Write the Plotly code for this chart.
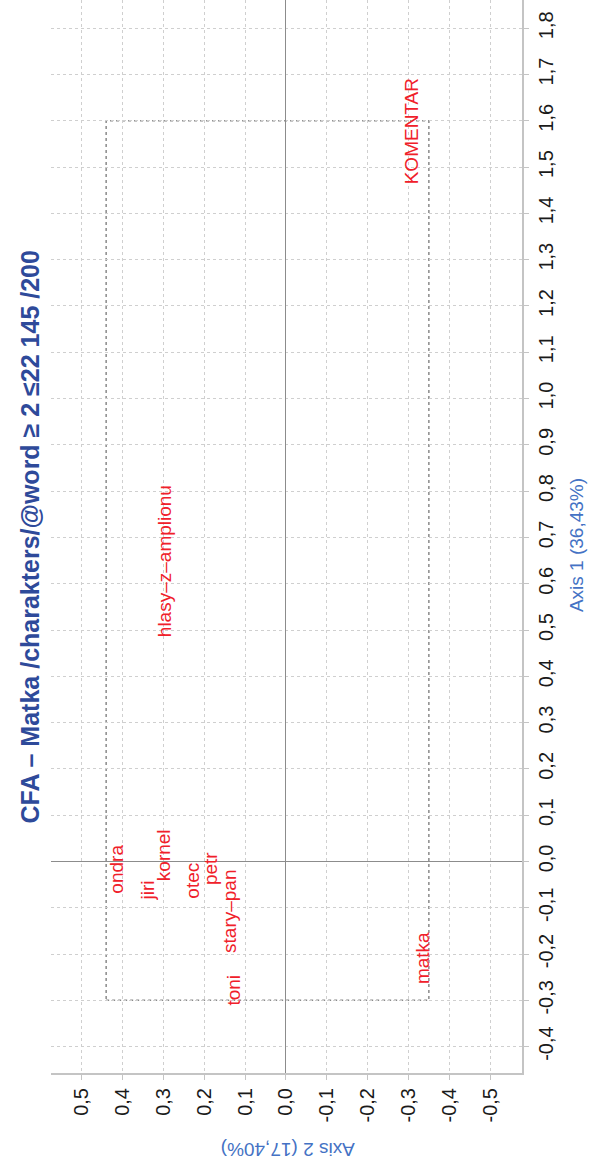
import plotly.graph_objects as go

# Data (CFA coordinates)
labels = ["ondra", "jiri", "kornel", "otec", "petr", "stary–pan", "toni",
          "hlasy–z–amplionu", "KOMENTAR", "matka"]
axis1 = [-0.016, -0.063, 0.013, -0.042, -0.015, -0.108, -0.279, 0.649, 1.578, -0.209]
axis2 = [0.414, 0.338, 0.299, 0.228, 0.184, 0.138, 0.127, 0.298, -0.307, -0.333]

ax1_ticks = [round(-0.4 + 0.1 * i, 1) for i in range(23)]
ax2_ticks = [round(-0.5 + 0.1 * i, 1) for i in range(11)]
box_ax1 = [-0.3, 1.6]
box_ax2 = [-0.35, 0.44]

title = "CFA – Matka /charakters/@word ≥ 2 ≤22 145 /200"
ax1_title = "Axis 1 (36,43%)"
ax2_title = "Axis 2 (17,40%)"

FONT = "Liberation Sans Narrow, Liberation Sans, Arial, sans-serif"

def fmt(v):
    return f"{v:.1f}".replace(".", ",")

fig = go.Figure()
fig.add_trace(go.Scatter(x=axis2, y=axis1, mode="markers",
                         marker=dict(size=1, color="rgba(0,0,0,0)"),
                         hoverinfo="skip", showlegend=False))

for t, a1, a2 in zip(labels, axis1, axis2):
    fig.add_annotation(x=a2, y=a1, xref="x", yref="y", text=t, textangle=-90,
                       showarrow=False, xanchor="center", yanchor="middle",
                       font=dict(family=FONT, size=19, color="#F0202A"))

fig.add_shape(type="rect", xref="x", yref="y",
              x0=box_ax2[1], x1=box_ax2[0], y0=box_ax1[0], y1=box_ax1[1],
              line=dict(color="#8a8a8a", width=1.5, dash="dot"), layer="below")

common = dict(showgrid=True, gridcolor="#cfcfcf", griddash="dot", gridwidth=1,
              zeroline=True, zerolinecolor="#8c8c8c", zerolinewidth=1.2,
              showline=True, linecolor="#c4c4c4", linewidth=2,
              ticks="outside", ticklen=5, tickcolor="#c4c4c4", tickangle=-90,
              tickfont=dict(family=FONT, size=20, color="#1a1a1a"))

fig.update_xaxes(range=[0.575, -0.578], tickvals=ax2_ticks,
                 ticktext=[fmt(v) for v in ax2_ticks], **common)
fig.update_yaxes(range=[-0.457, 1.861], side="right", tickvals=ax1_ticks,
                 ticktext=[fmt(v) for v in ax1_ticks], **common)

fig.add_annotation(xref="paper", yref="paper", x=-0.0446, y=0.5, text="<b>" + title + "</b>",
                   textangle=-90, showarrow=False, xanchor="center", yanchor="middle",
                   font=dict(family=FONT, size=25, color="#2E4A9A"))
fig.add_annotation(xref="paper", yref="paper", x=1.1146, y=0.492, text=ax1_title,
                   textangle=-90, showarrow=False, xanchor="center", yanchor="middle",
                   font=dict(family=FONT, size=19, color="#4472C4"))
fig.add_annotation(xref="paper", yref="paper", x=0.503, y=-0.0718, text=ax2_title,
                   textangle=180, showarrow=False, xanchor="center", yanchor="middle",
                   font=dict(family=FONT, size=19, color="#4472C4"))

fig.update_layout(width=591, height=1175, margin=dict(l=51, r=69, t=0, b=102),
                  plot_bgcolor="white", paper_bgcolor="white", showlegend=False)

fig.write_html("out.html")
